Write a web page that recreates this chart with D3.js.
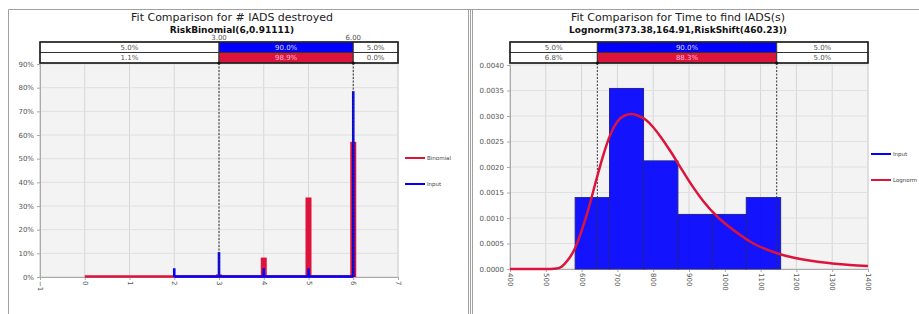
<!DOCTYPE html>
<html>
<head>
<meta charset="utf-8">
<script src="https://cdn.jsdelivr.net/npm/d3@7"></script>
<style>
  body { margin: 0; background: #fff; }
  text { font-family: "DejaVu Sans", Verdana, sans-serif; }
</style>
</head>
<body>
<div id="chart"></div>
<script>

// ---- Data: left chart (# IADS destroyed)
var binomX = [0, 1, 2, 3, 4, 5, 6];
var binomP = [0.000, 0.000, 0.001, 0.011, 0.082, 0.336, 0.571];
var inputX = [2, 3, 4, 5, 6];
var inputP = [0.037, 0.105, 0.037, 0.037, 0.785];
var leftXTicks = [-1, 0, 1, 2, 3, 4, 5, 6, 7];
var leftYTicks = [0, 0.1, 0.2, 0.3, 0.4, 0.5, 0.6, 0.7, 0.8, 0.9];
var leftMarks = [3, 6];
var leftTopRow = ["5.0%", "90.0%", "5.0%"];
var leftBottomRow = ["1.1%", "98.9%", "0.0%"];

// ---- Data: right chart (Time to find IADS)
var binEdges = [582, 678, 773, 869, 965, 1060, 1156];
var binDensity = [0.00140, 0.00354, 0.00212, 0.00107, 0.00107, 0.00140];
var curveX = [400, 450, 500, 530, 545, 560, 582, 600, 620, 640, 660, 680, 700, 720, 740, 760, 780, 800,
              820, 850, 880, 910, 940, 980, 1025, 1080, 1150, 1200, 1250, 1300, 1350, 1400];
var curveY = [0, 0, 0, 0.00001, 0.00005, 0.00016, 0.00041, 0.00075, 0.00120, 0.00172, 0.00222, 0.00263,
              0.00289, 0.00301, 0.00304, 0.00300, 0.00292, 0.00278, 0.00260, 0.00229, 0.00195, 0.00162,
              0.00133, 0.00102, 0.00076, 0.00050, 0.00030, 0.00021, 0.00015, 0.00011, 0.00008, 0.00006];
var rightXTicks = [400, 500, 600, 700, 800, 900, 1000, 1100, 1200, 1300, 1400];
var rightYTicks = [0, 0.0005, 0.001, 0.0015, 0.002, 0.0025, 0.003, 0.0035, 0.004];
var rightMarks = [644, 1145];
var rightTopRow = ["5.0%", "90.0%", "5.0%"];
var rightBottomRow = ["6.8%", "88.3%", "5.0%"];

var red = "#dc143c",
    blue = "#0000ff";

var width = 919,
    height = 314;

var svg = d3.select("#chart").append("svg")
    .attr("width", width)
    .attr("height", height);

// panel frames
svg.append("path")
    .attr("d", "M8.5,314 V9.5 H919 M468.5,9.5 V314 M470.5,9.5 V314 M472.5,9.5 V314")
    .attr("fill", "none")
    .attr("stroke", "#a0a0a0")
    .attr("stroke-width", 1);


// Draws the common frame of one chart, returns the plot group and scales
function drawFrame(cfg) {
    var x = d3.scaleLinear().domain(cfg.xDomain).range([cfg.left, cfg.right]);
    var y = d3.scaleLinear().domain(cfg.yDomain).range([cfg.bottom, cfg.yTopPx]);
    var g = svg.append("g");

    // titles
    g.append("text")
        .attr("x", cfg.titleX).attr("y", 21)
        .attr("text-anchor", "middle")
        .attr("font-size", "11px")
        .attr("fill", "#222")
        .text(cfg.title);
    g.append("text")
        .attr("x", cfg.titleX).attr("y", 33)
        .attr("text-anchor", "middle")
        .attr("font-size", "9px")
        .attr("font-weight", "bold")
        .attr("fill", "#111")
        .text(cfg.subtitle);

    // plot background
    g.append("rect")
        .attr("x", cfg.left).attr("y", cfg.top)
        .attr("width", cfg.right - cfg.left)
        .attr("height", cfg.bottom - cfg.top)
        .attr("fill", "#f3f3f3")
        .attr("stroke", "#d8d8d8");

    // grid
    g.selectAll(".vgrid").data(cfg.xTicks).enter().append("line")
        .attr("x1", function(d) { return x(d); }).attr("x2", function(d) { return x(d); })
        .attr("y1", cfg.top).attr("y2", cfg.bottom)
        .attr("stroke", "#d6d6d6");
    g.selectAll(".hgrid").data(cfg.yTicks).enter().append("line")
        .attr("x1", cfg.left).attr("x2", cfg.right)
        .attr("y1", function(d) { return y(d); }).attr("y2", function(d) { return y(d); })
        .attr("stroke", "#e0e0e0");

    // axes
    var yAxis = g.append("g")
        .attr("transform", "translate(" + cfg.left + ",0)")
        .call(d3.axisLeft(y).tickValues(cfg.yTicks).tickFormat(cfg.yFormat).tickSize(3).tickPadding(3));
    yAxis.select(".domain").attr("stroke", "#aaa");
    yAxis.selectAll(".tick line").attr("stroke", "#aaa");
    yAxis.selectAll("text").attr("font-size", "7px").attr("fill", "#555")
        .style("font-family", "DejaVu Sans, sans-serif");

    var xAxis = g.append("g")
        .attr("transform", "translate(0," + cfg.bottom + ")")
        .call(d3.axisBottom(x).tickValues(cfg.xTicks).tickFormat(d3.format("d")).tickSize(3));
    xAxis.select(".domain").attr("stroke", "#aaa");
    xAxis.selectAll(".tick line").attr("stroke", "#aaa");
    xAxis.selectAll("text")
        .attr("font-size", "7px").attr("fill", "#555")
        .style("font-family", "DejaVu Sans, sans-serif")
        .attr("text-anchor", "start")
        .attr("dy", "0.35em")
        .attr("transform", "translate(0,4) rotate(90)")
        .attr("x", 0).attr("y", 0);

    // percentile table on top of the plot
    var rowH = 10.5;
    var t0 = cfg.top - 2 * rowH;
    var cuts = [cfg.left, x(cfg.marks[0]), x(cfg.marks[1]), cfg.right];
    [cfg.topRow, cfg.bottomRow].forEach(function(row, r) {
        row.forEach(function(label, i) {
            var fill = i === 1 ? (r === 0 ? blue : red) : "#fff";
            g.append("rect")
                .attr("x", cuts[i]).attr("y", t0 + r * rowH)
                .attr("width", cuts[i + 1] - cuts[i]).attr("height", rowH)
                .attr("fill", fill)
                .attr("stroke", "#333").attr("stroke-width", 1);
            g.append("text")
                .attr("x", (cuts[i] + cuts[i + 1]) / 2)
                .attr("y", t0 + r * rowH + rowH / 2 + 2.5)
                .attr("text-anchor", "middle")
                .attr("font-size", "7px")
                .attr("fill", i === 1 ? (r === 0 ? "#dde" : "#fbd") : "#555")
                .text(label);
        });
    });
    g.append("rect")
        .attr("x", cfg.left).attr("y", t0)
        .attr("width", cfg.right - cfg.left).attr("height", 2 * rowH)
        .attr("fill", "none").attr("stroke", "#222").attr("stroke-width", 1.5);

    // marker labels above the table
    if (cfg.markLabels) {
        cfg.marks.forEach(function(m) {
            g.append("text")
                .attr("x", x(m)).attr("y", t0 - 2)
                .attr("text-anchor", "middle")
                .attr("font-size", "7px").attr("fill", "#555")
                .text(d3.format(".2f")(m));
        });
    }

    return { g: g, x: x, y: y };
}

// Dashed marker lines and legend drawn after the data
function drawMarks(p, cfg) {
    cfg.marks.forEach(function(m) {
        p.g.append("line")
            .attr("x1", p.x(m)).attr("x2", p.x(m))
            .attr("y1", cfg.top).attr("y2", cfg.bottom)
            .attr("stroke", "#333").attr("stroke-width", 1)
            .attr("stroke-dasharray", "2,1.5");
        p.g.append("circle")
            .attr("cx", p.x(m)).attr("cy", cfg.top)
            .attr("r", 1.6).attr("fill", "#111");
    });
}

function drawLegend(entries, lx, ly0, step) {
    entries.forEach(function(e, i) {
        var yy = ly0 + i * step;
        svg.append("line")
            .attr("x1", lx).attr("x2", lx + 20)
            .attr("y1", yy).attr("y2", yy)
            .attr("stroke", e.color).attr("stroke-width", 2);
        svg.append("text")
            .attr("x", lx + 22).attr("y", yy + 2)
            .attr("font-size", "5.5px").attr("fill", "#444")
            .text(e.name);
    });
}


// ---- Left chart
var leftCfg = {
    left: 40, right: 398, top: 63, bottom: 277, yTopPx: 64,
    xDomain: [-1, 7], yDomain: [0, 0.9],
    xTicks: leftXTicks, yTicks: leftYTicks, yFormat: d3.format(".0%"),
    title: "Fit Comparison for # IADS destroyed",
    subtitle: "RiskBinomial(6,0.91111)",
    titleX: 232,
    marks: leftMarks, markLabels: true,
    topRow: leftTopRow, bottomRow: leftBottomRow
};
var L = drawFrame(leftCfg);

// binomial fit: baseline + wide bars
L.g.append("line")
    .attr("x1", L.x(binomX[0])).attr("x2", L.x(binomX[binomX.length - 1]))
    .attr("y1", L.y(0) - 0.5).attr("y2", L.y(0) - 0.5)
    .attr("stroke", red).attr("stroke-width", 2.5);
L.g.selectAll(".binom").data(binomX).enter().append("rect")
    .attr("x", function(d) { return L.x(d) - 3; })
    .attr("y", function(d, i) { return L.y(binomP[i]); })
    .attr("width", 6)
    .attr("height", function(d, i) { return L.y(0) - L.y(binomP[i]); })
    .attr("fill", red);

// input: baseline + narrow spikes
L.g.append("line")
    .attr("x1", L.x(inputX[0])).attr("x2", L.x(inputX[inputX.length - 1]))
    .attr("y1", L.y(0) - 0.5).attr("y2", L.y(0) - 0.5)
    .attr("stroke", blue).attr("stroke-width", 2.5);
L.g.selectAll(".input").data(inputX).enter().append("rect")
    .attr("x", function(d) { return L.x(d) - 1.3; })
    .attr("y", function(d, i) { return L.y(inputP[i]); })
    .attr("width", 2.6)
    .attr("height", function(d, i) { return L.y(0) - L.y(inputP[i]); })
    .attr("fill", blue);

drawMarks(L, leftCfg);
drawLegend([{ name: "Binomial", color: red }, { name: "Input", color: blue }], 405, 158, 26);


// ---- Right chart
var rightCfg = {
    left: 510, right: 868, top: 63, bottom: 269, yTopPx: 65,
    xDomain: [400, 1400], yDomain: [0, 0.004],
    xTicks: rightXTicks, yTicks: rightYTicks, yFormat: d3.format(".4f"),
    title: "Fit Comparison for Time to find IADS(s)",
    subtitle: "Lognorm(373.38,164.91,RiskShift(460.23))",
    titleX: 678,
    marks: rightMarks, markLabels: false,
    topRow: rightTopRow, bottomRow: rightBottomRow
};
var R = drawFrame(rightCfg);

R.g.selectAll(".bin").data(binDensity).enter().append("rect")
    .attr("x", function(d, i) { return R.x(binEdges[i]); })
    .attr("y", function(d) { return R.y(d); })
    .attr("width", function(d, i) { return R.x(binEdges[i + 1]) - R.x(binEdges[i]); })
    .attr("height", function(d) { return R.y(0) - R.y(d); })
    .attr("fill", blue)
    .attr("fill-opacity", 0.92)
    .attr("stroke", "#22229a")
    .attr("stroke-width", 1);

drawMarks(R, rightCfg);

var curveLine = d3.line()
    .x(function(d, i) { return R.x(curveX[i]); })
    .y(function(d) { return R.y(d); })
    .curve(d3.curveMonotoneX);

R.g.append("path")
    .datum(curveY)
    .attr("d", curveLine)
    .attr("fill", "none")
    .attr("stroke", red)
    .attr("stroke-width", 2.5);

drawLegend([{ name: "Input", color: blue }, { name: "Lognorm", color: red }], 871, 154, 26);

</script>
</body>
</html>
